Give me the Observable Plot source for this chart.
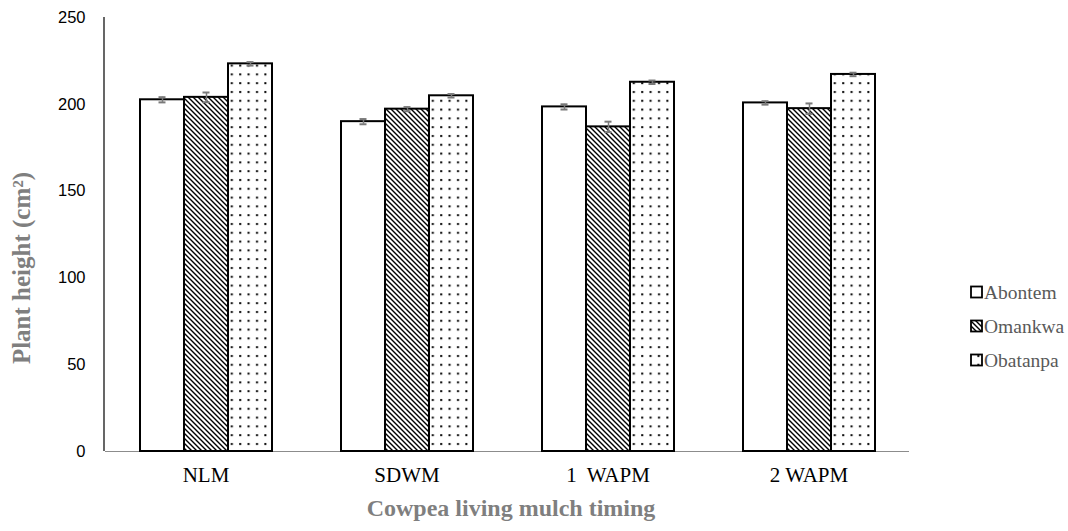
<!DOCTYPE html>
<html><head><meta charset="utf-8">
<script src="https://cdn.jsdelivr.net/npm/d3@7"></script>
<script src="https://cdn.jsdelivr.net/npm/@observablehq/plot@0.6"></script>
<style>
body{margin:0;background:#fff}
#wrap{position:relative;width:1068px;height:531px;overflow:hidden}
#wrap svg.chart{position:absolute;left:0;top:0}
g[aria-label="y-axis tick label"]{font-family:"Liberation Sans",Arial,sans-serif;font-size:16.5px;fill:#000}
g[aria-label="fx-axis tick label"]{font-family:"Liberation Serif","Times New Roman",serif;font-size:21px;fill:#000}
.ttl{position:absolute;font-family:"Liberation Serif","Times New Roman",serif;font-weight:bold;color:#7f7f7f;white-space:nowrap}
#xt{left:0;width:1022px;text-align:center;top:495px;font-size:24px}
#yt{left:22px;top:268px;transform:translate(-50%,-50%) rotate(-90deg);font-size:25px}
</style></head><body>
<svg width="0" height="0" style="position:absolute">
<defs>
<pattern id="p-Omankwa" patternUnits="userSpaceOnUse" width="5" height="5">
 <rect width="5" height="5" fill="#fff"/>
 <path d="M-1,-1L6,6M-1,4L1,6M4,-1L6,1" stroke="#000" stroke-width="1.4"/>
</pattern>
<pattern id="p-Obatanpa" patternUnits="userSpaceOnUse" width="8.4" height="8.8">
 <rect width="8.4" height="8.8" fill="#fff"/>
 <rect x="3" y="3" width="2" height="2" fill="#000"/>
</pattern>
<pattern id="p-Abontem" patternUnits="userSpaceOnUse" width="4" height="4">
 <rect width="4" height="4" fill="#fff"/>
</pattern>
</defs></svg>
<div id="wrap">
<div class="ttl" id="xt">Cowpea living mulch timing</div>
<div class="ttl" id="yt">Plant height (cm²)</div>
</div>
<script>
const categories = ["NLM", "SDWM", "1\u00a0 WAPM", "2 WAPM"];
const series = ["Abontem", "Omankwa", "Obatanpa"];
const abontem = [202.6, 190.0, 198.5, 200.8];
const omankwa = [204.0, 197.2, 187.0, 197.5];
const obatanpa = [223.3, 204.9, 212.7, 217.2];
const abontemErr = [1.5, 1.5, 1.5, 1.0];
const omankwaErr = [2.8, 1.2, 3.0, 3.0];
const obatanpaErr = [1.0, 1.0, 1.0, 1.0];
const yTicks = [0, 50, 100, 150, 200, 250];

const values = {Abontem: abontem, Omankwa: omankwa, Obatanpa: obatanpa};
const errs = {Abontem: abontemErr, Omankwa: omankwaErr, Obatanpa: obatanpaErr};
const data = [];
categories.forEach((c, i) => series.forEach(s => {
  data.push({cat: c, series: s, value: values[s][i], lo: values[s][i] - errs[s][i], hi: values[s][i] + errs[s][i], fill: `url(#p-${s})`});
}));

const plot = Plot.plot({
  width: 1068, height: 531,
  marginLeft: 104, marginRight: 158, marginTop: 17, marginBottom: 80,
  fx: {domain: categories, padding: 0, label: null},
  x: {domain: series, paddingInner: 0, paddingOuter: 0.739, axis: null},
  y: {domain: [0, 250], label: null},
  color: {type: "identity"},
  marks: [
    Plot.ruleY([0], {stroke: "#8c8c8c", strokeWidth: 1}),
    Plot.barY(data, {fx: "cat", x: "series", y: "value", fill: "fill", stroke: "#000", strokeWidth: 2}),
    Plot.ruleX(data, {fx: "cat", x: "series", y1: "lo", y2: "hi", stroke: "#7a7a7a", strokeWidth: 1.5}),
    Plot.tickY(data, {fx: "cat", x: "series", y: "lo", stroke: "#7a7a7a", strokeWidth: 2, inset: 18.5}),
    Plot.tickY(data, {fx: "cat", x: "series", y: "hi", stroke: "#7a7a7a", strokeWidth: 2, inset: 18.5}),
    Plot.axisY({ticks: yTicks, tickSize: 0, tickPadding: 20, label: null}),
    Plot.axisFx({anchor: "bottom", tickSize: 0, tickPadding: 16, label: null})
  ]
});
plot.classList.add("chart");
const y = plot.scale("y");
const svg = d3.select(plot);
svg.append("line")
  .attr("x1", 104).attr("x2", 104)
  .attr("y1", y.apply(0)).attr("y2", y.apply(250))
  .attr("stroke", "#000").attr("stroke-width", 1.2);

const lg = svg.append("g").attr("aria-label", "legend").attr("text-anchor", "start");
series.forEach((s, i) => {
  const cy = 292 + i * 34;
  lg.append("rect").attr("x", 971).attr("y", cy - 5.5).attr("width", 11).attr("height", 11)
    .attr("fill", `url(#p-${s})`).attr("stroke", "#000").attr("stroke-width", 1.8);
  lg.append("text").attr("x", 984).attr("y", cy).attr("dy", "0.35em")
    .attr("text-anchor", "start")
    .attr("font-family", "'Liberation Serif','Times New Roman',serif")
    .attr("font-size", 19.5).attr("fill", "#595959").text(s);
});
document.getElementById("wrap").prepend(plot);
</script>
</body></html>
